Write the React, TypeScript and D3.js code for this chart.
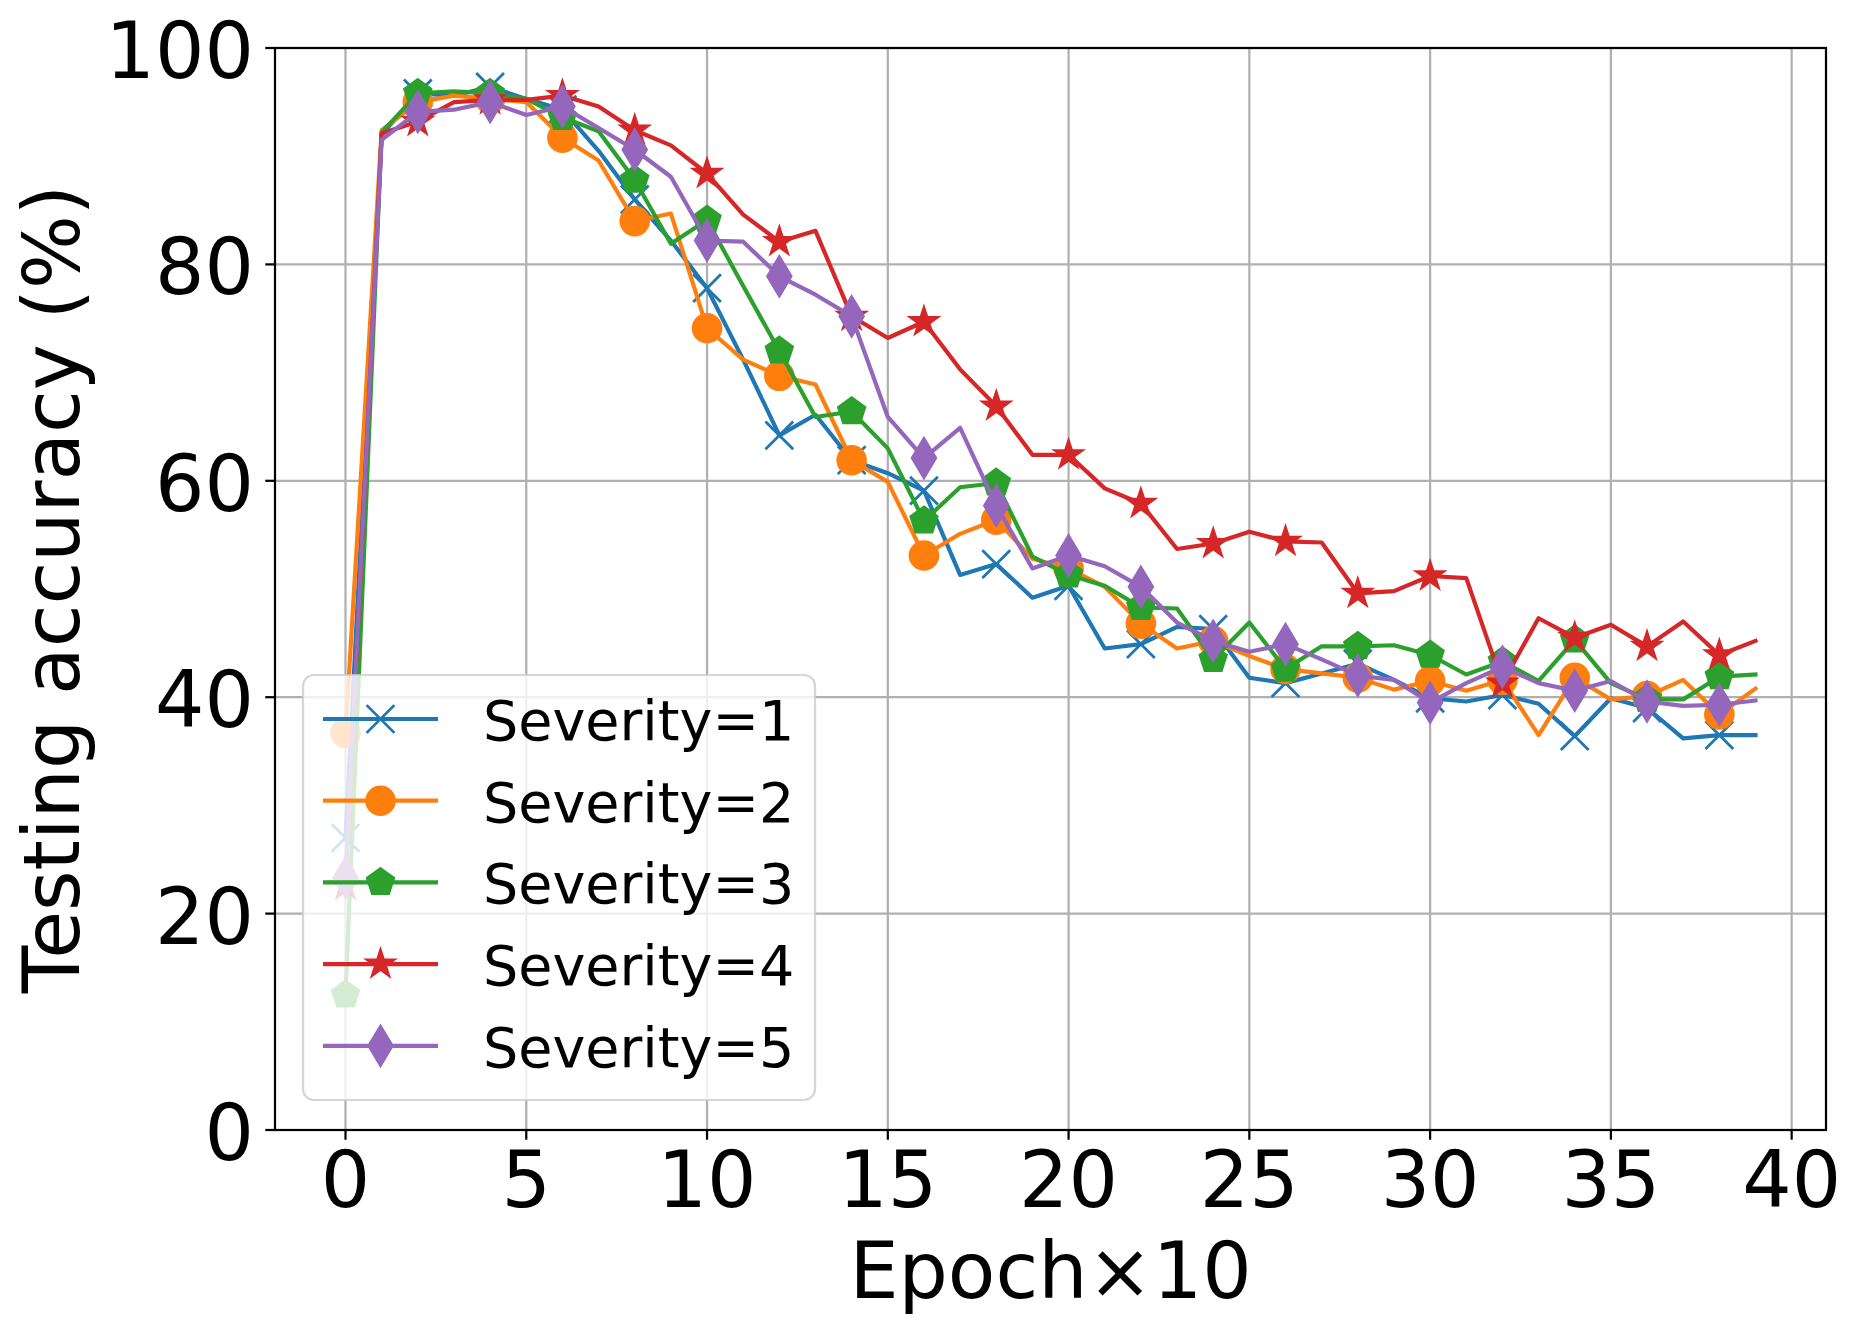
import * as d3 from "d3";
import React from "react";

// epoch index (x10)
const epochs = [
  0, 1, 2, 3, 4, 5, 6, 7, 8, 9, 10, 11, 12, 13, 14, 15, 16, 17, 18, 19,
  20, 21, 22, 23, 24, 25, 26, 27, 28, 29, 30, 31, 32, 33, 34, 35, 36, 37, 38, 39,
];

const severity1 = [
  27.0, 92.0, 95.8, 95.6, 96.4, 95.3, 94.3, 90.5, 86.0, 82.2,
  77.8, 71.2, 64.2, 66.1, 61.9, 60.7, 59.1, 51.3, 52.3, 49.2,
  50.3, 44.5, 44.9, 46.5, 46.3, 41.8, 41.3, 42.2, 43.1, 41.6,
  39.9, 39.6, 40.2, 39.4, 36.4, 39.9, 39.0, 36.2, 36.5, 36.5,
];
const severity2 = [
  36.7, 92.4, 95.0, 95.6, 95.3, 95.0, 91.7, 89.6, 84.0, 84.7,
  74.1, 71.2, 69.7, 68.9, 61.9, 59.9, 53.1, 55.1, 56.4, 52.8,
  51.9, 50.2, 46.8, 44.5, 45.2, 43.8, 42.6, 42.2, 41.8, 40.7,
  41.5, 40.6, 41.6, 36.5, 41.8, 39.8, 40.1, 41.6, 38.4, 40.8,
];
const severity3 = [
  12.5, 92.2, 95.8, 96.0, 95.8, 95.3, 93.6, 92.3, 87.8, 81.9,
  84.1, 78.0, 72.0, 65.9, 66.4, 63.0, 56.3, 59.4, 59.8, 53.0,
  51.3, 50.3, 48.3, 48.2, 43.5, 46.9, 42.6, 44.7, 44.7, 44.8,
  43.9, 42.1, 43.3, 41.5, 45.3, 41.3, 39.8, 39.8, 41.9, 42.1,
];
const severity4 = [
  22.6, 92.1, 93.2, 95.0, 95.2, 95.2, 95.6, 94.6, 92.4, 91.0,
  88.4, 84.6, 82.1, 83.1, 75.2, 73.2, 74.7, 70.3, 66.9, 62.4,
  62.4, 59.3, 57.9, 53.7, 54.2, 55.3, 54.4, 54.3, 49.6, 49.8,
  51.2, 51.0, 41.3, 47.3, 45.5, 46.7, 44.7, 47.0, 43.9, 45.2,
];
const severity5 = [
  23.3, 91.5, 94.1, 94.3, 95.0, 93.8, 94.6, 92.6, 90.6, 88.1,
  82.2, 82.1, 78.9, 77.2, 75.2, 65.9, 62.1, 64.9, 57.7, 51.9,
  53.1, 52.1, 50.2, 46.9, 45.2, 44.2, 44.9, 43.5, 42.0, 41.6,
  39.5, 41.3, 42.8, 41.3, 40.6, 41.5, 39.6, 39.2, 39.3, 39.7,
];

const seriesNames = ["Severity=1", "Severity=2", "Severity=3", "Severity=4", "Severity=5"];
const seriesColors = ["#1f77b4", "#ff7f0e", "#2ca02c", "#d62728", "#9467bd"];
const seriesMarkers = ["x", "o", "p", "*", "d"];
const seriesValues = [severity1, severity2, severity3, severity4, severity5];

const xTicks = [0, 5, 10, 15, 20, 25, 30, 35, 40];
const yTicks = [0, 20, 40, 60, 80, 100];

const W = 1860;
const H = 1334;
const FONT = "DejaVu Sans";
const PT = 200 / 72; // figure was saved at 200 dpi

// matplotlib-like marker paths, centred on 0,0
function markerPath(kind: string, ms: number): string {
  const h = ms / 2;
  const poly = (pts: [number, number][]) =>
    "M" + pts.map((p) => `${p[0].toFixed(2)},${p[1].toFixed(2)}`).join("L") + "Z";
  if (kind === "x") return `M${-h},${-h}L${h},${h}M${-h},${h}L${h},${-h}`;
  if (kind === "p") {
    return poly(d3.range(5).map((k) => {
      const a = -Math.PI / 2 + (k * 2 * Math.PI) / 5;
      return [h * Math.cos(a), h * Math.sin(a)] as [number, number];
    }));
  }
  if (kind === "*") {
    return poly(d3.range(10).map((k) => {
      const a = -Math.PI / 2 + (k * Math.PI) / 5;
      const r = k % 2 === 0 ? h : h * 0.381966;
      return [r * Math.cos(a), r * Math.sin(a)] as [number, number];
    }));
  }
  if (kind === "d") {
    const hy = ms * Math.SQRT1_2;
    const hx = hy * 0.6;
    return poly([[0, -hy], [hx, 0], [0, hy], [-hx, 0]]);
  }
  return "";
}

function Marker({ kind, cx, cy, color }: { kind: string; cx: number; cy: number; color: string }) {
  const ms = 10 * PT;
  const ew = 1 * PT;
  if (kind === "o") {
    return <circle cx={cx} cy={cy} r={ms / 2} fill={color} stroke={color} strokeWidth={ew} />;
  }
  if (kind === "x") {
    return (
      <path transform={`translate(${cx},${cy})`} d={markerPath(kind, ms)} fill="none"
        stroke={color} strokeWidth={ew} />
    );
  }
  return (
    <path transform={`translate(${cx},${cy})`} d={markerPath(kind, ms)} fill={color}
      stroke={color} strokeWidth={ew} strokeLinejoin="miter" />
  );
}

export default function App() {
  const left = 275, right = 1826, top = 48, bottom = 1130;

  const x = d3.scaleLinear().domain([-1.95, 40.95]).range([left, right]);
  const y = d3.scaleLinear().domain([0, 100]).range([bottom, top]);

  const line = d3.line<number>()
    .x((_, i) => x(epochs[i]))
    .y((d) => y(d));

  const lw = 1.5 * PT;
  const axisW = 0.8 * PT;
  const tickLen = 3.5 * PT;
  const tickFont = 28 * PT;
  const legendFont = 20 * PT;

  // legend geometry
  const legX = 303, legY = 675, legW = 512, legH = 425;
  const rowY = (i: number) => 719 + i * 81.7;
  const handleX0 = 323, handleX1 = 438;
  const handleMid = (handleX0 + handleX1) / 2;

  return (
    <svg width={W} height={H} style={{ position: "absolute", left: 0, top: 0, background: "#fff" }}
      fontFamily={FONT}>
      <rect x={0} y={0} width={W} height={H} fill="#fff" />

      {/* grid */}
      <g stroke="#b0b0b0" strokeWidth={axisW}>
        {xTicks.map((t) => (
          <line key={"gx" + t} x1={x(t)} x2={x(t)} y1={top} y2={bottom} />
        ))}
        {yTicks.map((t) => (
          <line key={"gy" + t} x1={left} x2={right} y1={y(t)} y2={y(t)} />
        ))}
      </g>

      {/* series */}
      {seriesValues.map((vals, s) => (
        <g key={seriesNames[s]}>
          <path d={line(vals) ?? ""} fill="none" stroke={seriesColors[s]} strokeWidth={lw}
            strokeLinejoin="round" strokeLinecap="square" />
          {vals.map((v, i) =>
            i % 2 === 0 ? (
              <Marker key={i} kind={seriesMarkers[s]} cx={x(epochs[i])} cy={y(v)} color={seriesColors[s]} />
            ) : null
          )}
        </g>
      ))}

      {/* spines */}
      <rect x={left} y={top} width={right - left} height={bottom - top} fill="none"
        stroke="#000" strokeWidth={axisW} />

      {/* ticks */}
      <g stroke="#000" strokeWidth={axisW}>
        {xTicks.map((t) => (
          <line key={"tx" + t} x1={x(t)} x2={x(t)} y1={bottom} y2={bottom + tickLen} />
        ))}
        {yTicks.map((t) => (
          <line key={"ty" + t} x1={left - tickLen} x2={left} y1={y(t)} y2={y(t)} />
        ))}
      </g>
      <g fontSize={tickFont} fill="#000">
        {xTicks.map((t) => (
          <text key={"lx" + t} x={x(t)} y={1207} textAnchor="middle">{t}</text>
        ))}
        {yTicks.map((t) => (
          <text key={"ly" + t} x={left - 21} y={y(t) + 30} textAnchor="end">{t}</text>
        ))}
      </g>

      {/* axis labels */}
      <text x={(left + right) / 2} y={1298} textAnchor="middle" fontSize={tickFont}>Epoch×10</text>
      <text transform={`translate(79,${(top + bottom) / 2}) rotate(-90)`} textAnchor="middle"
        fontSize={tickFont}>Testing accuracy (%)</text>

      {/* legend */}
      <rect x={legX} y={legY} width={legW} height={legH} rx={11} ry={11} fill="#fff"
        fillOpacity={0.8} stroke="#cccccc" strokeOpacity={0.8} strokeWidth={axisW} />
      {seriesNames.map((name, i) => (
        <g key={"leg" + name}>
          <line x1={handleX0} x2={handleX1} y1={rowY(i)} y2={rowY(i)} stroke={seriesColors[i]}
            strokeWidth={lw} />
          <Marker kind={seriesMarkers[i]} cx={handleMid} cy={rowY(i)} color={seriesColors[i]} />
          <text x={483} y={rowY(i) + 21} fontSize={legendFont} fill="#000">{name}</text>
        </g>
      ))}
    </svg>
  );
}
